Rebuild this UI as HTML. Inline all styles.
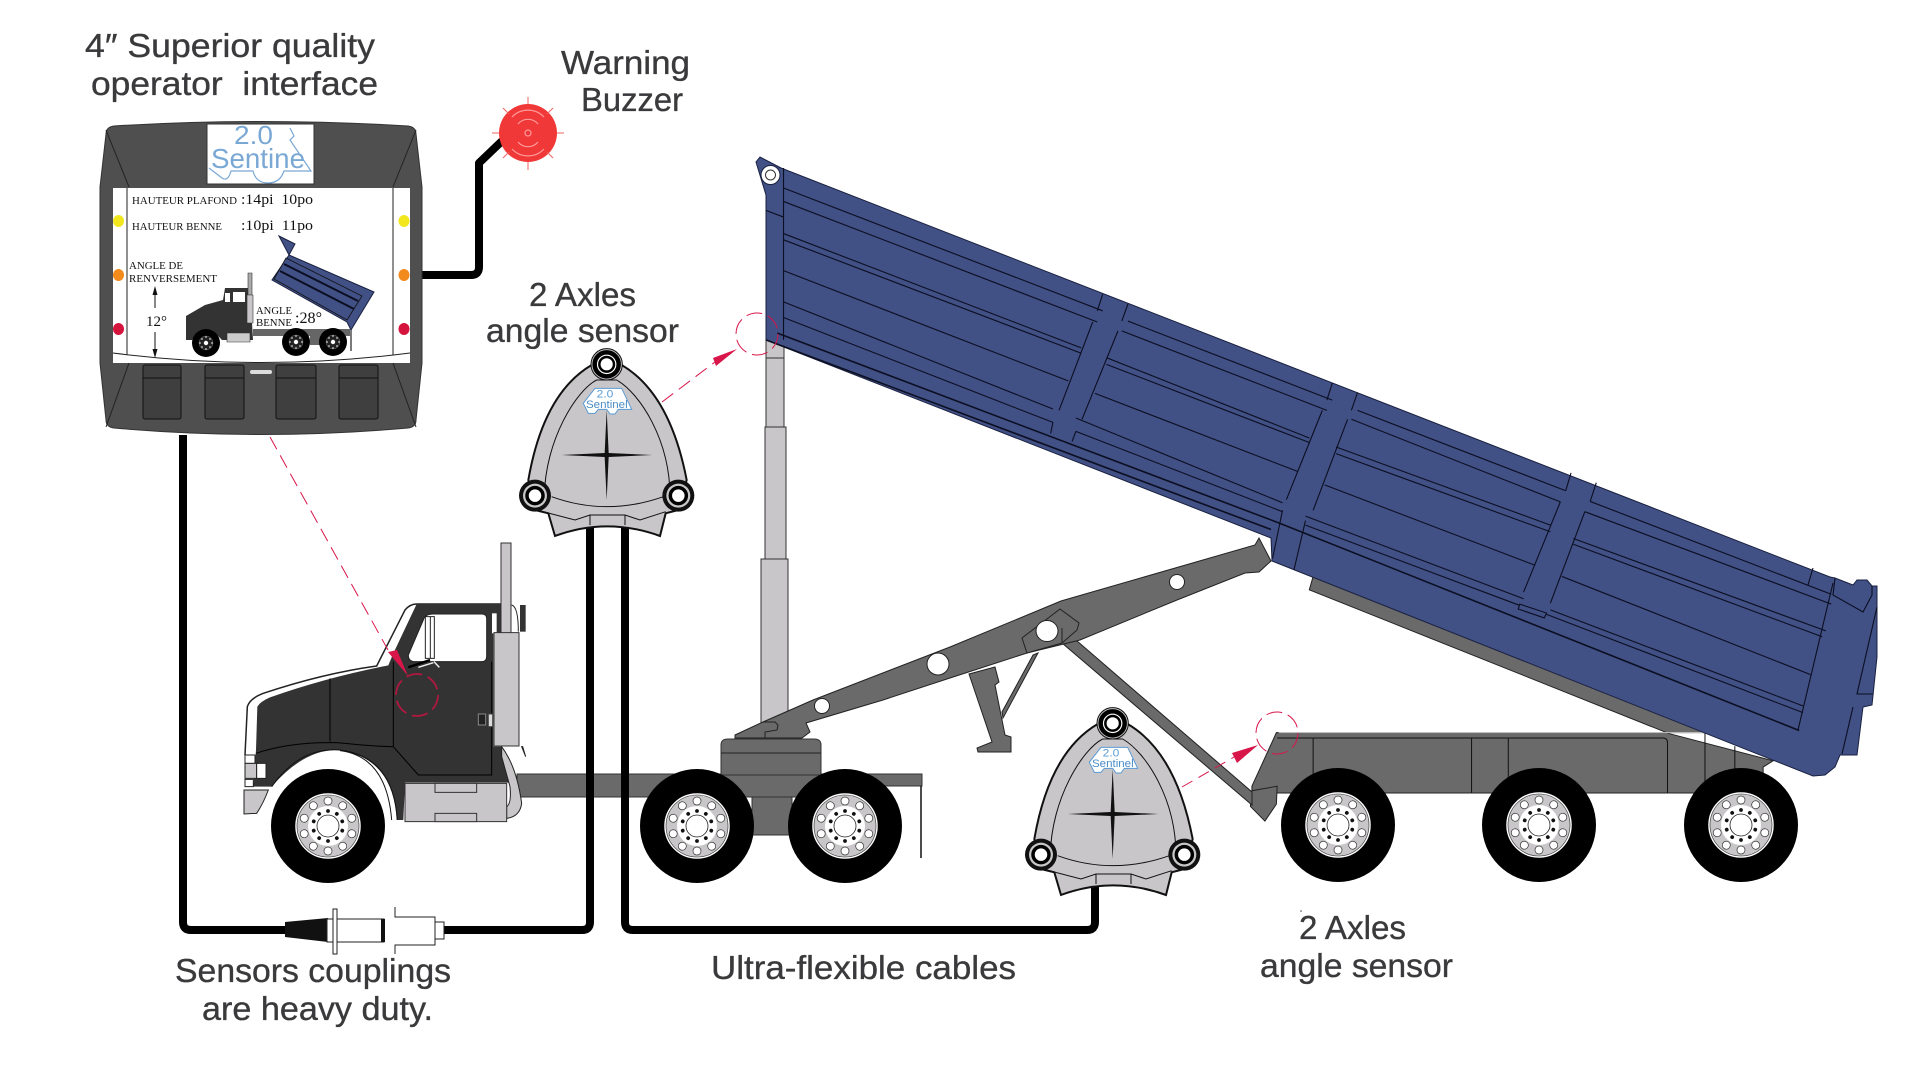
<!DOCTYPE html>
<html><head><meta charset="utf-8"><title>Dump truck sensors</title>
<style>
html,body{margin:0;padding:0;background:#fff;width:1920px;height:1065px;overflow:hidden}
svg{display:block}
svg *{vector-effect:non-scaling-stroke}
.t{font-family:"Liberation Sans",sans-serif;font-size:33px;fill:#3a3a3c;stroke:#3a3a3c;stroke-width:.35px}
.s{font-family:"Liberation Serif",serif;fill:#111}
</style></head><body>
<svg width="1920" height="1065" viewBox="0 0 1920 1065" xmlns="http://www.w3.org/2000/svg">
<defs>
<g id="wheel">
<circle r="57" fill="#000"/>
<circle r="32" fill="#c8c6c8" stroke="#fff" stroke-width="1.5"/>
<circle r="31" fill="none" stroke="#333" stroke-width=".6"/>
<circle r="20" fill="#fff"/>
<circle r="11" fill="#fff" stroke="#222" stroke-width=".8"/>
<g fill="#fff" stroke="#333" stroke-width=".7">
<circle cy="-25" r="4"/><circle cy="-25" r="4" transform="rotate(36)"/><circle cy="-25" r="4" transform="rotate(72)"/><circle cy="-25" r="4" transform="rotate(108)"/><circle cy="-25" r="4" transform="rotate(144)"/><circle cy="-25" r="4" transform="rotate(180)"/><circle cy="-25" r="4" transform="rotate(216)"/><circle cy="-25" r="4" transform="rotate(252)"/><circle cy="-25" r="4" transform="rotate(288)"/><circle cy="-25" r="4" transform="rotate(324)"/>
</g>
<g fill="#111">
<circle cy="-15" r="1.9"/><circle cy="-15" r="1.9" transform="rotate(36)"/><circle cy="-15" r="1.9" transform="rotate(72)"/><circle cy="-15" r="1.9" transform="rotate(108)"/><circle cy="-15" r="1.9" transform="rotate(144)"/><circle cy="-15" r="1.9" transform="rotate(180)"/><circle cy="-15" r="1.9" transform="rotate(216)"/><circle cy="-15" r="1.9" transform="rotate(252)"/><circle cy="-15" r="1.9" transform="rotate(288)"/><circle cy="-15" r="1.9" transform="rotate(324)"/>
</g>
</g>
<g id="mw"><circle r="14" fill="#000"/><circle r="7" fill="#222" stroke="#777" stroke-width=".5"/><circle r="2.2" fill="#fff"/><g fill="#ccc"><circle cy="-6" r=".9"/><circle cy="6" r=".9"/><circle cx="-6" r=".9"/><circle cx="6" r=".9"/><circle cx="4" cy="4" r=".9"/><circle cx="-4" cy="4" r=".9"/><circle cx="4" cy="-4" r=".9"/><circle cx="-4" cy="-4" r=".9"/></g></g>
</defs>

<!-- cylinder -->
<g stroke="#333" stroke-width="1" fill="#c8c6c8">
<rect x="766" y="340" width="18" height="88"/>
<path d="M766,358H784" fill="none"/>
<rect x="765" y="427" width="21" height="132"/>
<rect x="761" y="559" width="27" height="170"/>
</g>

<!-- chassis rail & base -->
<path d="M517,774H922V786H878V797H517Z" fill="#6a6a6a" stroke="#333"/>
<path d="M921,786V858" stroke="#111" stroke-width="1.500" fill="none"/>
<path d="M752,797H792V835H752Z" fill="#6a6a6a" stroke="#333"/>
<path d="M721,745Q721,739 728,739H814Q821,739 821,745V775H721Z" fill="#6a6a6a" stroke="#333"/>
<path d="M721,753H821" stroke="#222" fill="none"/>

<!-- trailer frame -->
<g transform="translate(720,130) scale(.76533,.44643)">
<path d="M775,1000L770,1030L1240,1352L1376,1413L1363,1427L1363,1485L695,1485L695,1470L727,1350L1300,1350Z" fill="#6a6a6a" stroke="#222"/>
<path d="M695,1480L693,1515L712,1548L727,1510L728,1470Z" fill="#6a6a6a" stroke="#222"/>
<path d="M728,1362H1232Q1238,1362 1238,1372V1485M775,1362V1485M982,1362V1485M1030,1362V1485M1287,1350V1485M1326,1380V1485" fill="none" stroke="#111"/>
<path d="M730,1350H1285" stroke="#ccc" stroke-width="1" fill="none"/>
</g>
<!-- strut -->
<path d="M1062,628L1252,792V805L1062,643Z" fill="#6a6a6a" stroke="#222"/>
<!-- landing gear -->
<path d="M969,674L995,667L999,682L995,685L1005,735L1011,737V752H978L977,748L992,742Z" fill="#6a6a6a" stroke="#222"/>
<path d="M1038,653L1033,655L1002,712L1003,718Z" fill="#6a6a6a" stroke="#222"/>
<!-- lift arm -->
<path d="M735,735L763,722L813,700L950,647L1061,601L1255,545L1259,538L1271,561L1259,572L1245,573L1177,600L1080,640L1027,653L950,678L883,700L806,723L810,732L802,738H735Z" fill="#6a6a6a" stroke="#222"/>
<path d="M765,738L765,732L777,730L778,725L775,722H763" fill="none" stroke="#222"/>
<path d="M1022,638L1060,609L1079,623L1077,630L1062,643L1027,653Z" fill="#6a6a6a" stroke="#222"/>
<path d="M1062,628V643" stroke="#222" fill="none"/>
<circle cx="822" cy="706" r="7.500" fill="#fff" stroke="#222"/>
<circle cx="938" cy="664" r="11" fill="#fff" stroke="#222"/>
<ellipse cx="1047" cy="631" rx="11" ry="10.500" fill="#fff" stroke="#222"/>
<circle cx="1177" cy="582" r="7.500" fill="#fff" stroke="#222"/>

<!-- dump body -->
<path d="M760,157L756,162L766,195V340L1271,538L1272,561L1813,776L1825,775L1835,767L1840,755H1857L1863,707L1872,705L1877,657V586H1872L1867,580H1857L1853,585L1835,578L1830,577L781,168Z" fill="#415085" stroke="#1a2140" stroke-width="1"/>
<path d="M1835,578L1833,595L1863,612L1872,595V586M1877,607L1857,694H1873M1853,707L1842,754M1833,583L1798,730M1813,568L1808,585" fill="none" stroke="#0c0f22" stroke-width="1.100"/>
<g transform="translate(720,130) scale(.76533,.44643)">
<g fill="none" stroke="#0c0f22" stroke-width="1.100">
<path d="M83,85V470"/>
<path d="M60,180L83,195"/>
<path d="M83,130L500,405M533,428L800,605M833,628L1105,808M1137,832L1452,1040"/>
<path d="M83,160L493,430M525,450L793,628M825,648L1098,833M1130,855L1452,1062"/>
<path d="M83,232L472,488M505,510L770,690M805,710L1085,885M1115,915L1445,1122"/>
<path d="M83,246L472,500M505,525L770,700M805,725L1085,900M1115,928L1440,1135"/>
<path d="M83,315L455,562M490,590L755,765M790,795L1065,975M1100,1000L1425,1220"/>
<path d="M83,385L435,625M465,645L735,835M765,865L1050,1050M1085,1075L1415,1290"/>
<path d="M83,420L435,655M465,675L735,855M765,885L1045,1065M1080,1085L1415,1305"/>
<path d="M60,470L720,895" stroke-width="1.6"/>
<path d="M75,455L730,880L1410,1345" stroke-width="1.6"/>
<path d="M500,368L493,405M533,390L525,428M487,430L443,628M520,450L473,648M435,655L432,680M465,675L460,698"/>
<path d="M800,567L793,605M833,588L825,628M787,628L740,828M820,648L775,852M735,852L722,960M765,875L750,985"/>
<path d="M1112,768L1105,808M1145,790L1137,832M1098,833L1050,1035M1130,855L1085,1060"/>
<path d="M1045,1062L1080,1082L1077,1093L1043,1073Z"/>
</g>
</g>
<circle cx="770.500" cy="175" r="9.500" fill="#fff" stroke="#1a2140" stroke-width="1"/>
<circle cx="770.500" cy="175" r="5" fill="#fff" stroke="#333" stroke-width="1"/>

<!-- wheels -->
<use href="#wheel" x="328" y="826"/>
<use href="#wheel" x="697" y="826"/>
<use href="#wheel" x="845" y="826"/>
<use href="#wheel" x="1338" y="825"/>
<use href="#wheel" x="1539" y="825"/>
<use href="#wheel" x="1741" y="825"/>

<!-- tractor -->
<g transform="translate(240,590) scale(.33333)">
<path d="M15,495L22,350Q30,325 70,310Q250,250 410,228L495,60Q510,42 530,42H785" fill="none" stroke="#222" stroke-width="1.5"/>
<path d="M48,480L52,350Q60,335 90,322Q260,262 445,226L460,190L530,42H785V130H760V470H785L815,578H495L490,690H470Q460,500 290,480Q190,480 95,590H40L45,520Z" fill="#333"/>
<path d="M505,195L550,90Q555,72 580,72H725Q740,72 740,85V200Q740,215 725,215H525Q505,215 505,195Z" fill="#fff" stroke="#222" stroke-width="1"/>
<rect x="556" y="80" width="27" height="125" fill="#fff" stroke="#222"/>
<path d="M571,80V205" stroke="#222" fill="none"/>
<rect x="756" y="70" width="14" height="60" fill="#fff"/>
<rect x="840" y="45" width="17" height="80" fill="#333"/>
<path d="M815,45Q835,50 835,125" fill="#fff" stroke="#222"/>
<path d="M270,265V455M48,490Q150,455 290,458Q410,470 460,470M460,215V470L535,555H755V215" fill="none" stroke="#000" stroke-width="1"/>
<path d="M95,590Q180,470 300,480Q460,500 472,690M300,482Q440,500 455,690" fill="none" stroke="#111" stroke-width="1"/>
<path d="M505,232L570,210" stroke="#000" stroke-width="2.500" fill="none"/>
<path d="M535,232L580,218M582,215L598,232" stroke="#eee" stroke-width="1.500" fill="none"/>
<path d="M785,470Q830,530 845,640Q840,680 800,685L800,650Q815,640 810,590L785,500Z" fill="#c8c6c8" stroke="#222"/>
<rect x="783" y="-141" width="30" height="271" fill="#c8c6c8" stroke="#333"/>
<rect x="762" y="128" width="75" height="340" fill="#c8c6c8" stroke="#333"/>
<path d="M848,470L857,500L845,470Z" fill="#222" stroke="#222"/>
<rect x="495" y="580" width="305" height="115" fill="#c8c6c8" stroke="#333"/>
<rect x="585" y="580" width="125" height="27" fill="#c8c6c8" stroke="#333"/>
<rect x="585" y="670" width="125" height="25" fill="#c8c6c8" stroke="#333"/>
<rect x="715" y="372" width="22" height="33" fill="#222" stroke="#888"/>
<rect x="745" y="372" width="13" height="38" fill="#ddd" stroke="#444"/>
<path d="M12,600H85Q70,640 50,670L12,672Z" fill="#c8c6c8" stroke="#222"/>
<rect x="15" y="495" width="30" height="25" fill="#fff" stroke="#222"/>
<rect x="15" y="520" width="35" height="45" fill="#c8c6c8" stroke="#222"/>
<rect x="50" y="520" width="28" height="45" fill="#fff" stroke="#222"/>
<rect x="15" y="568" width="25" height="22" fill="#fff" stroke="#222"/>
</g>

<!-- cables -->
<g fill="none" stroke="#000" stroke-width="8" stroke-linejoin="round">
<path d="M183,435V922Q183,930 191,930H290"/>
<path d="M444,930H582Q590,930 590,922V520"/>
<path d="M625,520V922Q625,930 633,930H1087Q1095,930 1095,922V880"/>
<path d="M422,275H471Q479,275 479,267V163L502,141"/>
</g>

<!-- couplings -->
<path d="M285,922L328,918V942L285,937Z" fill="#111"/>
<rect x="327" y="919" width="57" height="23" fill="#fff" stroke="#222" stroke-width="1"/>
<rect x="381" y="919" width="4" height="23" fill="#111"/>
<rect x="333" y="909" width="4" height="45" fill="#fff" stroke="#222" stroke-width="1"/>
<path d="M395,907V917H435V945H395V954" fill="#fff" stroke="#222" stroke-width="1"/>
<rect x="435" y="922" width="9" height="17" fill="#fff" stroke="#222" stroke-width="1"/>

<!-- panel -->
<path d="M114,126Q261,117 408,126Q416,127 416,134L422,187V363L416,420Q416,427 408,428Q261,441 114,428Q106,427 106,420L100,363V187L106,134Q106,127 114,126Z" fill="#4f4f4f" stroke="#333"/>
<rect x="113" y="188" width="297" height="175" fill="#fff"/>
<path d="M127,188V355M393,188V355M113,353Q261,372 410,353" fill="none" stroke="#222" stroke-width="1"/>
<path d="M106,130L129,187M416,130L393,187M129,363L106,427M393,363L416,427" stroke="#222" stroke-width="1" fill="none"/>
<rect x="207" y="124" width="107" height="60" fill="#fff" stroke="#333" stroke-width="1"/>
<g fill="none" stroke="#7aa8d4" stroke-width="1.200">
<path d="M290,128L294,136L290,140L311,171H284Q280,183 268,183Q256,183 253,171H231Q228,182 222,178L209,168"/>
</g>
<text x="234" y="144" font-family="Liberation Sans,sans-serif" font-size="26" fill="#7aa8d4" textLength="39" lengthAdjust="spacingAndGlyphs">2.0</text>
<text x="211" y="168" font-family="Liberation Sans,sans-serif" font-size="28" fill="#7aa8d4" textLength="94" lengthAdjust="spacingAndGlyphs">Sentine</text>
<g>
<rect x="143" y="365" width="38" height="54" rx="2" fill="#3f3f3f" stroke="#111"/><path d="M143,378H181" stroke="#111"/>
<rect x="205" y="365" width="39" height="54" rx="2" fill="#3f3f3f" stroke="#111"/><path d="M205,378H244" stroke="#111"/>
<rect x="276" y="365" width="40" height="54" rx="2" fill="#3f3f3f" stroke="#111"/><path d="M276,378H316" stroke="#111"/>
<rect x="339" y="365" width="39" height="54" rx="2" fill="#3f3f3f" stroke="#111"/><path d="M339,378H378" stroke="#111"/>
<rect x="250" y="370" width="22" height="4" rx="2" fill="#ddd"/>
</g>
<ellipse cx="118.500" cy="221" rx="5.500" ry="6" fill="#f2e71c"/><ellipse cx="404" cy="221" rx="5.500" ry="6" fill="#f2e71c"/>
<ellipse cx="118.500" cy="275" rx="5.500" ry="6" fill="#f28a1c"/><ellipse cx="404" cy="275" rx="5.500" ry="6" fill="#f28a1c"/>
<ellipse cx="118.500" cy="329" rx="5.500" ry="6" fill="#d4143c"/><ellipse cx="404" cy="329" rx="5.500" ry="6" fill="#d4143c"/>
<text class="s" x="132" y="204" font-size="11" textLength="105" lengthAdjust="spacingAndGlyphs">HAUTEUR PLAFOND</text>
<text class="s" x="241" y="204" font-size="15" textLength="72" lengthAdjust="spacingAndGlyphs">:14pi&#160; 10po</text>
<text class="s" x="132" y="230" font-size="11" textLength="90" lengthAdjust="spacingAndGlyphs">HAUTEUR BENNE</text>
<text class="s" x="241" y="230" font-size="15" textLength="72" lengthAdjust="spacingAndGlyphs">:10pi&#160; 11po</text>
<text class="s" x="129" y="269" font-size="11" textLength="54" lengthAdjust="spacingAndGlyphs">ANGLE DE</text>
<text class="s" x="129" y="282" font-size="11" textLength="88" lengthAdjust="spacingAndGlyphs">RENVERSEMENT</text>
<text class="s" x="146" y="326" font-size="15">12°</text>
<path d="M155,292V308M155,332V352" stroke="#111" stroke-width="1" fill="none"/>
<path d="M155,286L152.500,295H157.500ZM155,358L152.500,349H157.500Z" fill="#111"/>
<!-- mini truck -->
<path d="M279,236L295,244L289,255L374,292L351,330L347,322L272,280L289,255Z" fill="#415085" stroke="#1a2140" stroke-width="1"/>
<path d="M286,258L362,296L347,320L274,279Z" fill="#415085" stroke="#111" stroke-width=".8"/>
<path d="M284,264L358,301M280,271L354,309" stroke="#0c0f22" stroke-width="2" fill="none"/>
<rect x="253" y="329" width="97" height="7" fill="#666"/>
<rect x="310" y="336" width="12" height="9" fill="#666"/>
<path d="M351,330V351" stroke="#222" stroke-width="1.200" fill="none"/>
<path d="M186,340V316L205,305L223,300L225,288H250L253,340Z" fill="#333"/>
<path d="M192,340Q206,322 222,340" fill="#fff"/>
<rect x="233" y="292" width="12" height="10" fill="#fff"/>
<rect x="225" y="293" width="5" height="9" fill="#fff"/>
<rect x="248" y="273" width="4" height="22" fill="#aaa" stroke="#333" stroke-width=".6"/>
<rect x="247" y="295" width="6" height="28" fill="#c8c6c8" stroke="#333" stroke-width=".6"/>
<rect x="227" y="333" width="23" height="9" fill="#ccc" stroke="#333" stroke-width=".6"/>
<use href="#mw" x="206" y="343"/>
<use href="#mw" x="296" y="342"/>
<use href="#mw" x="333" y="342"/>
<text class="s" x="256" y="314" font-size="11" textLength="36" lengthAdjust="spacingAndGlyphs">ANGLE</text>
<text class="s" x="256" y="326" font-size="11" textLength="36" lengthAdjust="spacingAndGlyphs">BENNE</text>
<text class="s" x="295" y="323" font-size="16" textLength="27" lengthAdjust="spacingAndGlyphs">:28°</text>

<!-- buzzer -->
<circle cx="528" cy="133" r="29" fill="#f03838"/>
<g fill="none" stroke="#ff9a9a" stroke-width="1.200">
<circle cx="528" cy="133" r="3"/>
<path d="M518,124A13,13 0 0 1 538,124M512,117A22,22 0 0 1 544,117M518,142A13,13 0 0 0 538,142M512,149A22,22 0 0 0 544,149"/>
</g>
<path d="M528,97V104M528,162V170M492,133H499M557,133H564M503,108L509,114M553,108L547,114M503,158L509,152M553,158L547,152" stroke="#f06060" stroke-width="1" fill="none"/>

<!-- sensor 1 -->
<g transform="translate(500,340) scale(.33333)">
<path d="M275,75Q130,160 85,420L105,510L145,520L165,588Q320,530 480,588L497,520L535,510L560,420Q510,160 365,75Z" fill="#c8c6c8" stroke="#111" stroke-width="2"/>
<path d="M133,470C135,300 230,150 290,120H350C420,160 510,300 510,470M155,470Q320,530 490,470M110,510L225,540L270,525H375L420,540L497,515M270,525V555M375,525V555" fill="none" stroke="#111" stroke-width="1"/>
<path d="M320,210L326,339L457,345L326,351L320,480L314,351L185,345L314,339Z" fill="#111"/>
<path d="M285,145H365L395,208H355L345,222H330L320,208H295L285,220H265L250,190Z" fill="#fff" stroke="#5a9bd5" stroke-width="1"/>
<text x="290" y="172" font-family="Liberation Sans,sans-serif" font-size="34" fill="#5a9bd5" textLength="50" lengthAdjust="spacingAndGlyphs">2.0</text>
<text x="258" y="204" font-family="Liberation Sans,sans-serif" font-size="32" fill="#4a8bc5" textLength="125" lengthAdjust="spacingAndGlyphs">Sentinel</text>
<circle cx="320" cy="73" r="47" fill="#c8c6c8" stroke="#111" stroke-width="1"/><circle cx="320" cy="73" r="36" fill="#fff" stroke="#000" stroke-width="4.500"/><circle cx="320" cy="73" r="22" fill="#fff" stroke="#000" stroke-width="2.500"/>
<circle cx="105" cy="467" r="48" fill="#111"/><circle cx="105" cy="467" r="36" fill="#c8c6c8"/><circle cx="105" cy="467" r="24" fill="#fff" stroke="#000" stroke-width="3.500"/>
<circle cx="535" cy="467" r="48" fill="#111"/><circle cx="535" cy="467" r="36" fill="#c8c6c8"/><circle cx="535" cy="467" r="24" fill="#fff" stroke="#000" stroke-width="3.500"/>
</g>

<!-- sensor 2 -->
<g transform="translate(1006,699) scale(.33333)">
<path d="M275,75Q130,160 85,420L105,510L145,520L165,588Q320,530 480,588L497,520L535,510L560,420Q510,160 365,75Z" fill="#c8c6c8" stroke="#111" stroke-width="2"/>
<path d="M133,470C135,300 230,150 290,120H350C420,160 510,300 510,470M155,470Q320,530 490,470M110,510L225,540L270,525H375L420,540L497,515M270,525V555M375,525V555" fill="none" stroke="#111" stroke-width="1"/>
<path d="M320,210L326,339L457,345L326,351L320,480L314,351L185,345L314,339Z" fill="#111"/>
<path d="M285,145H365L395,208H355L345,222H330L320,208H295L285,220H265L250,190Z" fill="#fff" stroke="#5a9bd5" stroke-width="1"/>
<text x="290" y="172" font-family="Liberation Sans,sans-serif" font-size="34" fill="#5a9bd5" textLength="50" lengthAdjust="spacingAndGlyphs">2.0</text>
<text x="258" y="204" font-family="Liberation Sans,sans-serif" font-size="32" fill="#4a8bc5" textLength="125" lengthAdjust="spacingAndGlyphs">Sentinel</text>
<circle cx="320" cy="73" r="47" fill="#c8c6c8" stroke="#111" stroke-width="1"/><circle cx="320" cy="73" r="36" fill="#fff" stroke="#000" stroke-width="4.500"/><circle cx="320" cy="73" r="22" fill="#fff" stroke="#000" stroke-width="2.500"/>
<circle cx="105" cy="467" r="48" fill="#111"/><circle cx="105" cy="467" r="36" fill="#c8c6c8"/><circle cx="105" cy="467" r="24" fill="#fff" stroke="#000" stroke-width="3.500"/>
<circle cx="535" cy="467" r="48" fill="#111"/><circle cx="535" cy="467" r="36" fill="#c8c6c8"/><circle cx="535" cy="467" r="24" fill="#fff" stroke="#000" stroke-width="3.500"/>
</g>

<!-- red callouts -->
<g fill="none" stroke="#d8164a" stroke-width="1">
<path d="M270,437L388,650" stroke-dasharray="14 7"/>
<path d="M662,402L715,362" stroke-dasharray="14 7"/>
<path d="M1182,787L1234,757" stroke-dasharray="12 7"/>
<circle cx="757" cy="334" r="21" stroke-dasharray="16 6"/>
<circle cx="1277" cy="733" r="21" stroke-dasharray="16 6"/>
<circle cx="417" cy="695" r="21" stroke-width="1.800" stroke-dasharray="16 6" stroke="#b01840"/>
</g>
<path d="M388,652L397,650L408,676Z" fill="#d8164a"/>
<path d="M737,349L716,366L713,358Z" fill="#d8164a"/>
<path d="M1258,745L1237,763L1232,753Z" fill="#d8164a"/>
<circle cx="1301" cy="911" r=".8" fill="#444"/>

<!-- labels -->
<text class="t" x="85" y="57" textLength="290" lengthAdjust="spacingAndGlyphs">4″ Superior quality</text>
<text class="t" x="91" y="95" textLength="287" lengthAdjust="spacingAndGlyphs">operator&#160; interface</text>
<text class="t" x="561" y="74" textLength="129" lengthAdjust="spacingAndGlyphs">Warning</text>
<text class="t" x="581" y="111" textLength="102" lengthAdjust="spacingAndGlyphs">Buzzer</text>
<text class="t" x="529" y="306" textLength="107" lengthAdjust="spacingAndGlyphs">2 Axles</text>
<text class="t" x="486" y="342" textLength="193" lengthAdjust="spacingAndGlyphs">angle sensor</text>
<text class="t" x="175" y="982" textLength="276" lengthAdjust="spacingAndGlyphs">Sensors couplings</text>
<text class="t" x="202" y="1020" textLength="231" lengthAdjust="spacingAndGlyphs">are heavy duty.</text>
<text class="t" x="711" y="979" textLength="305" lengthAdjust="spacingAndGlyphs">Ultra-flexible cables</text>
<text class="t" x="1299" y="939" textLength="107" lengthAdjust="spacingAndGlyphs">2 Axles</text>
<text class="t" x="1260" y="977" textLength="193" lengthAdjust="spacingAndGlyphs">angle sensor</text>
</svg>
</body></html>
